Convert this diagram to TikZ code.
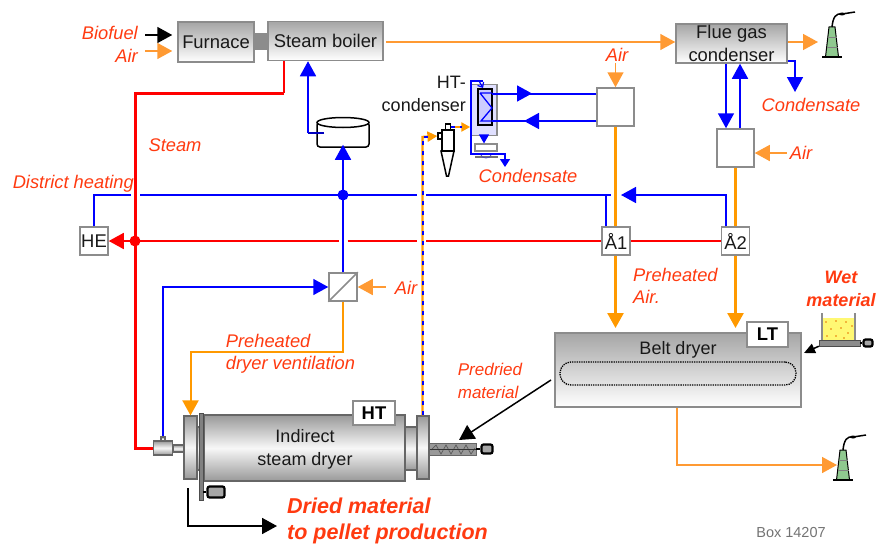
\documentclass[tikz,border=0pt]{standalone}
\usepackage{fontspec}
\setmainfont{Liberation Sans}
\usepackage{tikz}
\usetikzlibrary{arrows.meta, positioning, calc}

\definecolor{labelred}{HTML}{FF3A10}
\definecolor{airorange}{HTML}{FF9A33}
\definecolor{pipeorange}{HTML}{FF9900}
\definecolor{boxgray}{HTML}{8C8C8C}
\definecolor{stackgreen}{HTML}{8FC98F}

\begin{document}
\begin{tikzpicture}[x=1pt, y=-1pt,
    txt/.style={font=\fontsize{18}{23}\selectfont, text=black!90, inner sep=0pt, align=center},
    lab/.style={font=\fontsize{18.3}{22.5}\selectfont\itshape, text=labelred, inner sep=0pt, align=left},
    boldlab/.style={font=\fontsize{18}{23}\selectfont\bfseries\itshape, text=labelred, inner sep=0pt, align=center},
    shadedbox/.style={draw=boxgray, line width=1.5pt, top color=black!35, bottom color=white, inner sep=0pt, align=center, font=\fontsize{18.4}{22.5}\selectfont, text=black!90},
    plainbox/.style={draw=boxgray, line width=1.5pt, fill=white, inner sep=0pt, font=\fontsize{18.4}{22}\selectfont, text=black!90},
    tagbox/.style={draw=boxgray, line width=1.5pt, fill=white, inner sep=0pt, font=\fontsize{18.4}{22}\selectfont\bfseries},
    metal/.style={draw=black!60, line width=1.2pt, top color=black!40, bottom color=black!40, middle color=black!3, inner sep=0pt},
    motorbox/.style={draw=black, line width=2.2pt, rounded corners=2pt, fill=black!35, inner sep=0pt},
    bluepipe/.style={draw=blue, line width=1.6pt},
    bluearrow/.style={bluepipe, -{Triangle[length=15pt,width=16pt]}},
    redpipe/.style={draw=red, line width=1.6pt},
    airpipe/.style={draw=airorange, line width=1.5pt},
    airarrow/.style={airpipe, -{Triangle[length=15pt,width=16pt]}},
    hotpipe/.style={draw=pipeorange, line width=2.6pt},
    hotarrow/.style={hotpipe, -{Triangle[length=15pt,width=16pt]}},
    blackarrow/.style={draw=black, line width=1.8pt, -{Triangle[length=15pt,width=16pt]}},
    dot/.style={circle, fill=#1, inner sep=0pt, minimum size=10pt},
    stack/.pic={
        \fill[stackgreen, draw=black, line width=1pt] (-6.5,0) -- (-3,-30) -- (3,-30) -- (6.5,0) -- cycle;
        \draw[black!50, line width=.6pt] (-5.5,-10) -- (5.5,-10) (-4.5,-20) -- (4.5,-20);
        \draw[black, line width=2pt] (-10,0) -- (10,0);
        \draw[black, line width=1.5pt] (0,-30) .. controls (1,-40) and (4,-44) .. (10,-43) -- (23,-45);
        \fill[black] (10,-43) ellipse (3 and 1.5);
    }
]
\useasboundingbox (0,0) rectangle (882,543);

% Top row
\node[shadedbox, minimum width=76pt, minimum height=40pt] (furnace) at (216,42) {Furnace};
\node[shadedbox, minimum width=115pt, minimum height=39pt] (boiler) at (325.5,41) {Steam boiler};
\node[fill=boxgray, minimum width=14pt, minimum height=17pt, inner sep=0pt] (throat) at (261,41.5) {};
\node[shadedbox, minimum width=111pt, minimum height=39pt] (fluegas) at (731.5,43.5) {Flue gas\\condenser};
\pic at (832,57) {stack};
\pic at (843,480) {stack};

% Inputs to the furnace
\node[lab, anchor=east] (biofuel) at (138,33) {Biofuel};
\node[lab, anchor=east] (fuelair) at (138,56) {Air};
\coordinate (biofuelin) at (145,35);
\coordinate (fuelairin) at (145,51);
\draw[blackarrow] (biofuelin) -- ([xshift=-5pt]biofuelin -| furnace.west);
\draw[airarrow] (fuelairin) -- ([xshift=-5pt]fuelairin -| furnace.west);

% Flue gas path
\coordinate (stacktop) at (818,42);
\draw[airarrow] (boiler.east) ++(2,1) -- (fluegas.west |- 0,42);
\draw[airarrow] (fluegas.east |- stacktop) -- (stacktop);
\coordinate (fluedrain) at (795,61);
\coordinate (fluedrainend) at (795,92);
\draw[bluepipe, -{Triangle[length=15pt,width=16pt]}] (fluegas.east |- fluedrain) -- (fluedrain) -- (fluedrainend);
\node[lab] (condfg) at (811,105) {Condensate};

% Heat exchanger boxes
\node[plainbox, minimum width=37pt, minimum height=38pt] (hxone) at (615.5,107) {};
\node[plainbox, minimum width=37pt, minimum height=38pt] (hxtwo) at (735.5,148) {};
\node[plainbox, minimum width=28pt, minimum height=28pt] (aone) at (616,241) {Å1};
\node[plainbox, minimum width=28pt, minimum height=28pt] (atwo) at (735.5,241) {Å2};
\node[plainbox, minimum width=28pt, minimum height=28pt] (he) at (94,241) {HE};
\node[plainbox, minimum width=28pt, minimum height=28pt] (hxair) at (343,287) {};
\draw[boxgray, line width=1.5pt] (hxair.south west) -- (hxair.north east);

\draw[bluearrow] ([xshift=-9.5pt]hxtwo.north |- fluegas.south) -- ([xshift=-9.5pt]hxtwo.north);
\draw[bluearrow] ([xshift=4.5pt]hxtwo.north) -- ([xshift=4.5pt]hxtwo.north |- fluegas.south);

\node[lab] (airone) at (617,55) {Air};
\draw[airarrow] (615.5,63) -- (hxone.north);
\node[lab] (airtwo) at (801,153) {Air};
\draw[airarrow] (airtwo.west) ++(-3,0) -- (hxtwo.east |- airtwo);
\node[lab] (airthree) at (406,288) {Air};
\draw[airarrow] (airthree.west) ++(-9,-1) -- (hxair.east);

\draw[hotpipe] (hxone.south) -- (hxone.south |- aone.north);
\draw[hotpipe] (hxtwo.south) -- (atwo.north);

% Belt dryer
\node[shadedbox, minimum width=246pt, minimum height=74pt] (belt) at (678,370) {};
\node[txt] (beltname) at (678,350) {Belt dryer};
\node[draw=black, densely dotted, line width=1.3pt, rounded corners=11pt, minimum width=236pt, minimum height=23pt, inner sep=0pt] (beltloop) at (678,373.5) {};
\node[tagbox, minimum width=41pt, minimum height=25pt] (lt) at (767.5,334.5) {LT};
\draw[hotarrow] (aone.south -| hxone.south) -- (hxone.south |- 0,328);
\draw[hotarrow] (atwo.south) -- (atwo.south |- 0,328);
\node[lab, anchor=north west] (preair) at (633,268) {Preheated\\Air.};
\coordinate (beltbend) at (677,465);
\draw[airpipe, -{Triangle[length=15pt,width=16pt]}] (belt.south -| beltbend) -- (beltbend) -- (837,465);

% Wet material feed
\node[boldlab] (wet) at (841,288.5) {Wet\\material};
\node[fill=yellow!55, inner sep=0pt, minimum width=32pt, minimum height=23pt] (hopper) at (838.5,329) {};
\foreach \px/\py in {826/322, 836/321, 846/322, 852/326, 831/329, 841/328, 848/333, 827/336, 836/336, 844/338}
    \fill[orange!90!black] (\px,\py) circle (.9pt);
\draw[boxgray, line width=1.5pt] (822,313) -- (822,340) (855,313) -- (855,340);
\node[draw=black!70, fill=black!45, inner sep=0pt, minimum width=41pt, minimum height=6pt] (feeder) at (839.5,343) {};
\node[motorbox, minimum width=9pt, minimum height=7pt] (feedmotor) at (868,343) {};
\draw[black, line width=1.2pt] (feeder.east) -- (feedmotor.west);
\coordinate (beltin) at (804,353);
\draw[draw=black, line width=1.5pt, -{Triangle[length=11pt,width=10pt]}] (feeder.south west) -- (beltin);

% Indirect dryer
\node[metal, minimum width=201pt, minimum height=66pt] (dryer) at (304.5,448) {};
\node[txt] (dryername) at (305,449) {Indirect\\steam dryer};
\node[tagbox, minimum width=42pt, minimum height=24pt] (ht) at (374,413) {HT};
\node[metal, minimum width=7pt, minimum height=43pt] (neckl) at (200,448.5) {};
\node[metal, minimum width=12pt, minimum height=43pt] (neckr) at (411,448.5) {};
\node[metal, minimum width=13pt, minimum height=63pt] (flangel) at (190.5,447.5) {};
\node[metal, minimum width=12pt, minimum height=63pt] (flanger) at (423,447.5) {};
\node[draw=black!70, fill=black!50, line width=.8pt, inner sep=0pt, minimum width=4pt, minimum height=87pt] (plate) at (201,456.5) {};
\node[motorbox, minimum width=17pt, minimum height=11pt] (drymotor) at (216,492) {};
\draw[black, line width=1.2pt] (plate.east |- drymotor) -- (drymotor.west);

% Steam valve and shaft
\node[metal, minimum width=11pt, minimum height=7pt] (shaft) at (178.5,448.5) {};
\node[metal, minimum width=19pt, minimum height=14pt] (valve) at (163,448) {};
\node[metal, minimum width=4pt, minimum height=4pt] (valvetop) at (163,439) {};

% Screw feeder
\node[draw=black!60, fill=black!40, inner sep=0pt, minimum width=47pt, minimum height=12pt] (screw) at (452.5,449) {};
\draw[black!65, line width=.7pt] (431,450) -- (436,445) -- (441,454) -- (446,445) -- (451,454) -- (456,445) -- (461,454) -- (466,445) -- (471,454) -- (475,448);
\draw[black!80, line width=1pt] (flanger.east |- screw) -- (screw.east);
\node[motorbox, minimum width=11pt, minimum height=9pt] (screwmotor) at (487,449) {};
\draw[black, line width=1.2pt] (screw.east) -- (screwmotor.west);
\node[lab, font=\fontsize{17}{22.5}\selectfont\itshape] (predried) at (490,381) {Predried\\material};
\coordinate (arrowstart) at (551,380);
\draw[black, line width=1.5pt, -{Triangle[length=15pt,width=16pt]}] (arrowstart) -- (459,440);

% Steam
\coordinate (steamtee) at (135,241);
\coordinate (steamknee) at (135,93);
\coordinate (steamtap) at (284,93);
\draw[red, line width=1.5pt] (boiler.south -| steamtap) -- (steamtap);
\draw[red, line width=3pt, line join=miter] (steamtap) -- (steamknee) -- (steamknee |- valve) -- (valve.west);
\node[lab] (steam) at (175,145) {Steam};
\coordinate (gapa) at (338.5,241);
\coordinate (gapb) at (347.5,241);
\coordinate (gapc) at (417,241);
\coordinate (gapd) at (426,241);
\draw[redpipe, -{Triangle[length=15pt,width=16pt]}] (steamtee) -- (he.east);
\draw[redpipe] (steamtee) -- (gapa) (gapb) -- (gapc) (gapd) -- (aone.west) (aone.east) -- (atwo.west);
\node[dot=red, minimum size=11pt] (steamdot) at (steamtee) {};

% District heating
\node[lab, anchor=east] (district) at (134,184) {District heating};
\coordinate (dhcorner) at (94,195);
\coordinate (dhgapa) at (131,195);
\coordinate (dhgapb) at (140,195);
\coordinate (dhgapc) at (417,195);
\coordinate (dhgapd) at (426,195);
\coordinate (dhend) at (611,195);
\coordinate (dhtee) at (343,195);
\coordinate (aonetap) at (606,195);
\draw[bluepipe] (he.north) -- (dhcorner) -- (dhgapa) (dhgapb) -- (dhgapc) (dhgapd) -- (dhend);
\draw[bluepipe] (aonetap) -- (aonetap |- aone.north);
\coordinate (atwotap) at (726,195);
\draw[bluearrow] (atwotap |- atwo.north) -- (atwotap) -- (621,195);
\node[dot=blue, minimum size=11pt] (dhdot) at (dhtee) {};

% Feed water
\node[draw=black, line width=1.5pt, fill=white, inner sep=0pt, minimum width=52pt, minimum height=25pt, rounded corners=3pt] (tank) at (343,134.5) {};
\draw[black, line width=1.5pt, fill=white] (343,122.5) ellipse (26 and 5);
\coordinate (tankin) at (324,133);
\coordinate (tankknee) at (308,133);
\draw[blue!75!black, line width=2pt] (tankin) -- (tankknee);
\draw[bluearrow] (tankknee) -- (tankknee |- boiler.south);
\draw[bluearrow] (hxair.north) -- ([yshift=3pt]tank.south);
\coordinate (dryerblue) at (163,287);
\draw[bluearrow] (valvetop.north) -- (dryerblue) -- (hxair.west);

% Preheated ventilation
\coordinate (ventknee) at (343,352);
\coordinate (venttop) at (190.5,352);
\draw[draw=pipeorange, line width=2pt, -{Triangle[length=15pt,width=16pt]}] (hxair.south) -- (ventknee) -- (venttop) -- (flangel.north);
\node[lab] (ventlabel) at (290.5,354) {Preheated\\dryer ventilation};

% HT condenser
\node[txt, align=right, anchor=east] (htname) at (466,94) {HT-\\condenser};
\node[draw=boxgray, line width=1.5pt, fill=blue!12, inner sep=0pt, minimum width=26pt, minimum height=51pt] (htcond) at (484,110) {};
\node[draw=black, line width=1.5pt, fill=white!80!blue, inner sep=0pt, minimum width=14pt, minimum height=36pt] (htcoil) at (485,107) {};
\draw[blue, line width=1.3pt] (480,93) -- (492,93) (480,93) -- (492,108) -- (481,121) -- (492,121);
\coordinate (coilout) at (492,93.5);
\coordinate (coilin) at (492,121);
\draw[bluepipe, line width=2pt] (hxone.west |- coilout) -- (coilout);
\draw[bluepipe, -{Triangle[length=15pt,width=16pt]}] (coilout) -- (532,93.5);
\draw[bluepipe] (hxone.west |- coilin) -- (coilin);
\draw[bluepipe, -{Triangle[length=15pt,width=16pt]}] (hxone.west |- coilin) -- (524,121);

% Condensate tray
\node[draw=boxgray, line width=1.2pt, fill=white, inner sep=0pt, minimum width=22pt, minimum height=7pt] (tray) at (486,147.5) {};
\node[fill=black!55, inner sep=0pt, minimum width=23pt, minimum height=2.5pt] (traybase) at (486,157) {};
\draw[blue!40!gray, line width=.8pt] (481,155) arc (180:360:5 and -3);
\coordinate (drainknee) at (471,154);
\coordinate (draintop) at (471,81);
\coordinate (drainbend) at (505,154);
\draw[blue, line width=1.4pt, -{Triangle[length=9pt,width=10pt]}] (htcond.south) -- (htcond.south |- tray.north);
\draw[blue, line width=1.4pt, -{Triangle[length=8pt,width=10pt]}] (483,81) -- (draintop) -- (drainknee) -- (drainbend) -- (505,167);
\draw[blue, line width=1.2pt, -{Straight Barb[length=4pt,width=7pt]}] (479,81) -- (483,88);
\node[lab] (condht) at (528,176) {Condensate};

% Cyclone and predried gas pipe
\draw[black, line width=1.5pt, fill=white] (441,151) -- (454,151) -- (448.5,176) -- (446.5,176) -- cycle;
\node[draw=black, line width=1.5pt, fill=white, inner sep=0pt, minimum width=12pt, minimum height=21pt] (cyclone) at (448,140.5) {};
\node[draw=black, line width=1.2pt, fill=white, inner sep=0pt, minimum width=5pt, minimum height=6pt] (cyctop) at (448,127) {};
\node[draw=black, line width=1.2pt, fill=white, inner sep=0pt, minimum width=4pt, minimum height=6pt] (cycside) at (440,136) {};
\coordinate (ventbend) at (422.5,137);
\draw[pipeorange, line width=2.4pt, -{Triangle[length=10pt,width=10pt]}] (flanger.north -| ventbend) -- (ventbend) -- (cycside.west);
\draw[blue, line width=2pt, dash pattern=on 4pt off 6pt] (flanger.north -| ventbend) -- (ventbend) -- (428,137);
\draw[pipeorange, line width=2.4pt, -{Triangle[length=9pt,width=9pt]}] (cyctop.east) -- (htcond.west |- cyctop);
\draw[blue, line width=2pt, dash pattern=on 4pt off 5pt] (cyctop.east) -- (462,127);

% Dried material
\coordinate (driedtop) at (188,488);
\coordinate (driedknee) at (188,526);
\draw[blackarrow] (driedtop) -- (driedknee) -- (277,526);
\node[boldlab, anchor=west, align=left, font=\fontsize{21.5}{26}\selectfont\bfseries\itshape] (dried) at (287,521) {Dried material\\to pellet production};

\node[font=\fontsize{14.5}{16}\selectfont, text=black!55, inner sep=0pt] (boxno) at (791,532) {Box 14207};
\end{tikzpicture}
\end{document}
